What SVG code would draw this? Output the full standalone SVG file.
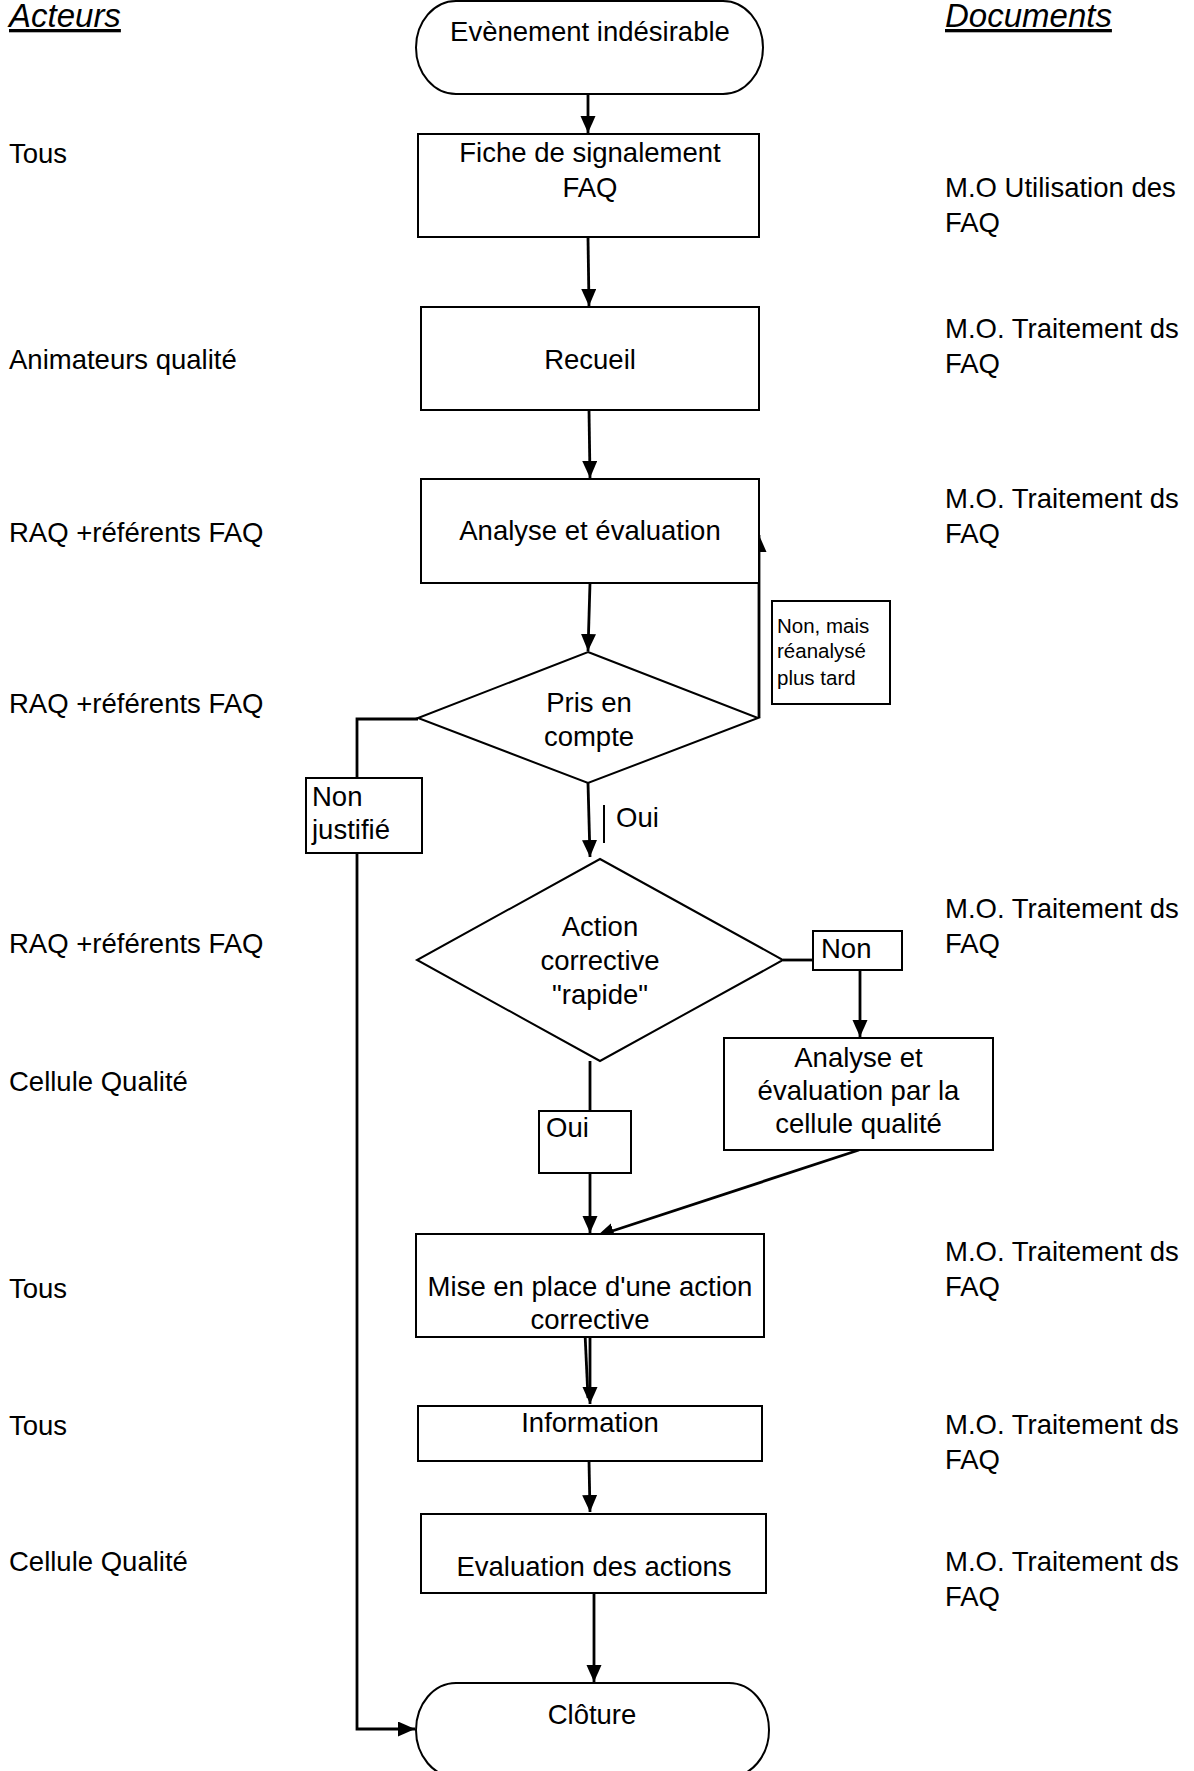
<svg xmlns="http://www.w3.org/2000/svg" width="1194" height="1771" viewBox="0 0 1194 1771">
<style>
text{font-family:"Liberation Sans",Arial,sans-serif;font-size:27.5px;fill:#000}
.c{text-anchor:middle}
.h{font-style:italic;font-size:33px;text-decoration:underline}
.s{font-size:20.5px}
.shape{fill:#fff;stroke:#000;stroke-width:2}
.con{fill:none;stroke:#000;stroke-width:2.8}
.arr{marker-end:url(#ah)}
</style>
<defs>
<marker id="ah" markerUnits="userSpaceOnUse" markerWidth="18" markerHeight="16" refX="17" refY="7.5" orient="auto">
<path d="M0,0 L17,7.5 L0,15 Z" fill="#000"/>
</marker>
</defs>
<rect width="1194" height="1771" fill="#fff"/>

<g id="headers">
<text class="h" x="9" y="27">Acteurs</text>
<text class="h" x="945" y="27">Documents</text>
</g>

<g id="acteurs">
<text x="9" y="163">Tous</text>
<text x="9" y="369">Animateurs qualité</text>
<text x="9" y="542">RAQ +référents FAQ</text>
<text x="9" y="713">RAQ +référents FAQ</text>
<text x="9" y="953">RAQ +référents FAQ</text>
<text x="9" y="1091">Cellule Qualité</text>
<text x="9" y="1298">Tous</text>
<text x="9" y="1435">Tous</text>
<text x="9" y="1571">Cellule Qualité</text>
</g>

<g id="documents">
<text x="945" y="197">M.O Utilisation des<tspan x="945" dy="35">FAQ</tspan></text>
<text x="945" y="338">M.O. Traitement ds<tspan x="945" dy="35">FAQ</tspan></text>
<text x="945" y="508">M.O. Traitement ds<tspan x="945" dy="35">FAQ</tspan></text>
<text x="945" y="918">M.O. Traitement ds<tspan x="945" dy="35">FAQ</tspan></text>
<text x="945" y="1261">M.O. Traitement ds<tspan x="945" dy="35">FAQ</tspan></text>
<text x="945" y="1434">M.O. Traitement ds<tspan x="945" dy="35">FAQ</tspan></text>
<text x="945" y="1571">M.O. Traitement ds<tspan x="945" dy="35">FAQ</tspan></text>
</g>

<g id="connectors">
<path class="con arr" d="M588,94 L588,133"/>
<path class="con arr" d="M588,237 L589,306"/>
<path class="con arr" d="M589,410 L590,478"/>
<path class="con arr" d="M590,583 L588,651"/>
<path class="con arr" d="M759,718 L759,535"/>
<path class="con" d="M418,719 H357 V778"/>
<path class="con arr" d="M357,853 V1729 H415"/>
<path class="con arr" d="M588,783 L590,857"/>
<path class="con" d="M783,960 H813"/>
<path class="con arr" d="M860,970 V1037"/>
<path class="con" d="M590,1061 V1111"/>
<path class="con arr" d="M590,1173 V1233"/>
<path class="con arr" d="M859,1150 L597,1236"/>
<path class="con" d="M585,1333 L588,1398"/>
<path class="con arr" d="M590,1337 L590,1404"/>
<path class="con arr" d="M589,1461 L590,1512"/>
<path class="con arr" d="M594,1593 V1682"/>
</g>

<g id="n-evenement">
<rect class="shape" x="416" y="1" width="347" height="93" rx="40" ry="46.5"/>
<text class="c" x="590" y="41">Evènement indésirable</text>
</g>

<g id="n-fiche">
<rect class="shape" x="418" y="134" width="341" height="103"/>
<text class="c" x="590" y="162">Fiche de signalement</text>
<text class="c" x="590" y="197">FAQ</text>
</g>

<g id="n-recueil">
<rect class="shape" x="421" y="307" width="338" height="103"/>
<text class="c" x="590" y="369">Recueil</text>
</g>

<g id="n-analyse">
<rect class="shape" x="421" y="479" width="338" height="104"/>
<text class="c" x="590" y="540">Analyse et évaluation</text>
</g>

<g id="n-pris">
<polygon class="shape" points="588,652 758,718 588,783 418,718"/>
<text class="c" x="589" y="712">Pris en</text>
<text class="c" x="589" y="746">compte</text>
</g>

<g id="l-nonmais">
<rect class="shape" x="772" y="601" width="118" height="103"/>
<text class="s" x="777" y="633">Non, mais</text>
<text class="s" x="777" y="658">réanalysé</text>
<text class="s" x="777" y="685">plus tard</text>
</g>

<g id="l-nonjustifie">
<rect class="shape" x="306" y="778" width="116" height="75"/>
<text x="312" y="806">Non</text>
<text x="312" y="839">justifié</text>
</g>

<g id="l-oui1">
<line x1="604" y1="805" x2="604" y2="843" stroke="#000" stroke-width="2"/>
<text x="616" y="827">Oui</text>
</g>

<g id="n-action">
<polygon class="shape" points="600,859 783,960 600,1061 417,960"/>
<text class="c" x="600" y="936">Action</text>
<text class="c" x="600" y="970">corrective</text>
<text class="c" x="600" y="1004">"rapide"</text>
</g>

<g id="l-non">
<rect class="shape" x="813" y="931" width="89" height="39"/>
<text x="821" y="958">Non</text>
</g>

<g id="n-analyse2">
<rect class="shape" x="724" y="1038" width="269" height="112"/>
<text class="c" x="858.5" y="1067">Analyse et</text>
<text class="c" x="858.5" y="1100">évaluation par la</text>
<text class="c" x="858.5" y="1133">cellule qualité</text>
</g>

<g id="l-oui2">
<rect class="shape" x="539" y="1111" width="92" height="62"/>
<text x="546" y="1137">Oui</text>
</g>

<g id="n-mise">
<rect class="shape" x="416" y="1234" width="348" height="103"/>
<text class="c" x="590" y="1296">Mise en place d'une action</text>
<text class="c" x="590" y="1329">corrective</text>
</g>

<g id="n-information">
<rect class="shape" x="418" y="1406" width="344" height="55"/>
<text class="c" x="590" y="1432">Information</text>
</g>

<g id="n-evaluation">
<rect class="shape" x="421" y="1514" width="345" height="79"/>
<text class="c" x="594" y="1576">Evaluation des actions</text>
</g>

<g id="n-cloture">
<rect class="shape" x="416" y="1683" width="353" height="94" rx="40" ry="47"/>
<text class="c" x="592" y="1724">Clôture</text>
</g>
</svg>
